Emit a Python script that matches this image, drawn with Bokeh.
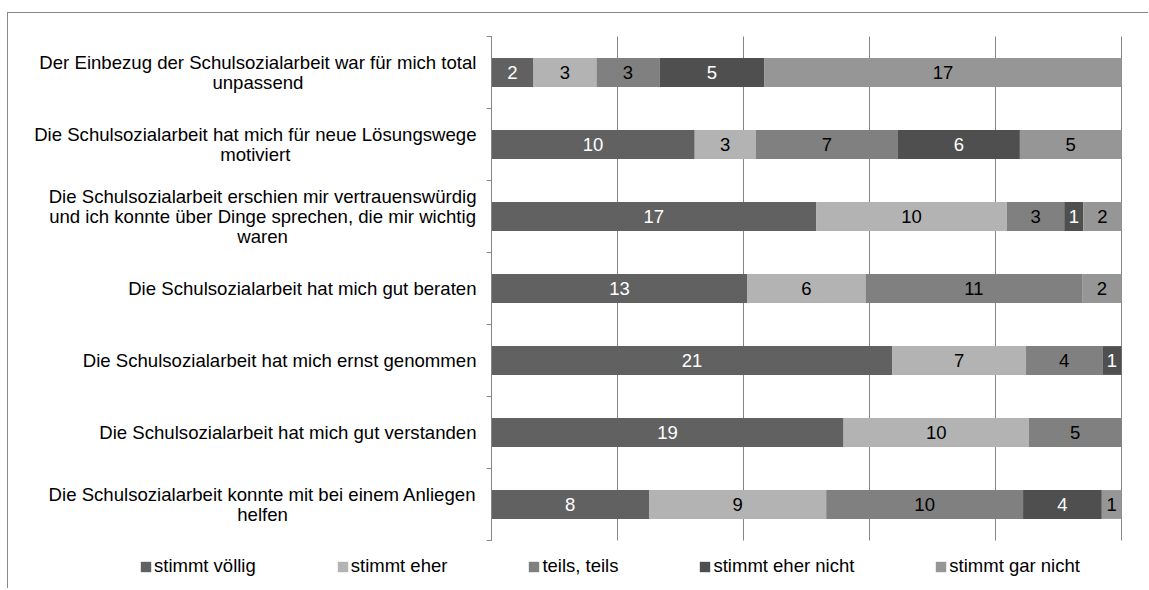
from bokeh.plotting import figure
from bokeh.models import Range1d, FixedTicker, ColumnDataSource
from bokeh.core.properties import value
from bokeh.embed import file_html
from bokeh.resources import INLINE

categories = [
    "Der Einbezug der Schulsozialarbeit war für mich total\nunpassend",
    "Die Schulsozialarbeit hat mich für neue Lösungswege\nmotiviert",
    "Die Schulsozialarbeit erschien mir vertrauenswürdig\nund ich konnte über Dinge sprechen, die mir wichtig\nwaren",
    "Die Schulsozialarbeit hat mich gut beraten",
    "Die Schulsozialarbeit hat mich ernst genommen",
    "Die Schulsozialarbeit hat mich gut verstanden",
    "Die Schulsozialarbeit konnte mit bei einem Anliegen\nhelfen",
]
series_names = ["stimmt völlig", "stimmt eher", "teils, teils", "stimmt eher nicht", "stimmt gar nicht"]
stimmt_voellig = [2, 10, 17, 13, 21, 19, 8]
stimmt_eher = [3, 3, 10, 6, 7, 10, 9]
teils_teils = [3, 7, 3, 11, 4, 5, 10]
stimmt_eher_nicht = [5, 6, 1, 0, 1, 0, 4]
stimmt_gar_nicht = [17, 5, 2, 2, 0, 0, 1]
grid_ticks = [0.0, 0.2, 0.4, 0.6, 0.8, 1.0]

series_values = [stimmt_voellig, stimmt_eher, teils_teils, stimmt_eher_nicht, stimmt_gar_nicht]
colors = ["#616161", "#b3b3b3", "#808080", "#4f4f4f", "#969696"]
label_colors = ["white", "black", "black", "white", "black"]

FONT = "Liberation Sans"
FS_CAT = "18.6px"
FS_VAL = "18.5px"
FS_LEG = "18.5px"
GRID = "#868686"

# layout constants (pixels)
W, H = 1141, 576
AXIS_X = 483      # canvas x of value 0
PLOT_W = 630      # pixels for 100 %
TOP_Y = 23        # canvas y of first band top
BAND_H = 72       # pixels per category band

n = len(categories)
ys = [i + 0.5 for i in range(n)]
bounds = list(range(n + 1))
totals = [sum(s[i] for s in series_values) for i in range(n)]

x_range = Range1d(-AXIS_X / PLOT_W, (W - AXIS_X) / PLOT_W)
y_range = Range1d(n + (H - TOP_Y - n * BAND_H) / BAND_H, -TOP_Y / BAND_H)

p = figure(width=W, height=H, output_backend="svg", toolbar_location=None,
           x_range=x_range, y_range=y_range,
           min_border_left=0, min_border_right=0, min_border_top=0, min_border_bottom=0)
p.styles = {"border-left": "1px solid #888888", "border-top": "1px solid #888888",
            "margin-top": "12px", "margin-left": "7px"}
p.outline_line_color = None
p.background_fill_color = "white"
p.border_fill_color = "white"

p.xaxis.visible = False
p.xgrid.visible = False
p.ygrid.visible = False

# vertical gridlines limited to the bar area
p.segment(x0=grid_ticks, y0=[0] * len(grid_ticks), x1=grid_ticks, y1=[n] * len(grid_ticks),
          line_color=GRID, line_width=1)

yax = p.yaxis[0]
yax.fixed_location = 0
yax.bounds = (0, n)
yax.ticker = FixedTicker(ticks=bounds)
yax.major_tick_in = 0
yax.major_tick_out = 5
yax.major_tick_line_color = GRID
yax.minor_tick_line_color = None
yax.axis_line_color = GRID
yax.major_label_text_color = None
yax.major_label_text_font_size = "0px"

# category labels
p.text(x=[0] * n, y=ys, text=categories, x_offset=-15, text_align="center",
       anchor="center_right", text_baseline="middle", text_font=value(FONT),
       text_font_size=FS_CAT, text_color="black", text_line_height=0.95)

cum = [0.0] * n
for name, vals, col, lc in zip(series_names, series_values, colors, label_colors):
    left = [cum[i] / totals[i] for i in range(n)]
    right = [(cum[i] + vals[i]) / totals[i] for i in range(n)]
    p.hbar(y=ys, left=left, right=right, height=0.4, fill_color=col, line_color=None,
           legend_label=name)
    idx = [i for i in range(n) if vals[i] > 0]
    src = ColumnDataSource(dict(
        x=[(left[i] + right[i]) / 2 for i in idx],
        y=[ys[i] for i in idx],
        t=[str(vals[i]) for i in idx]))
    p.text(x="x", y="y", text="t", source=src, text_align="center", text_baseline="middle",
           text_font=value(FONT), text_font_size=FS_VAL, text_color=lc)
    cum = [cum[i] + vals[i] for i in range(n)]

lg = p.legend[0]
lg.orientation = "horizontal"
lg.location = (131, 12)
lg.padding = 0
lg.margin = 0
lg.spacing = 80
lg.glyph_width = 13
lg.glyph_height = 13
lg.label_standoff = 2
lg.label_height = 20
lg.label_text_font = FONT
lg.label_text_font_size = FS_LEG
lg.label_text_color = "black"
lg.border_line_color = None
lg.background_fill_alpha = 0

open("out.html", "w").write(file_html(p, INLINE))
